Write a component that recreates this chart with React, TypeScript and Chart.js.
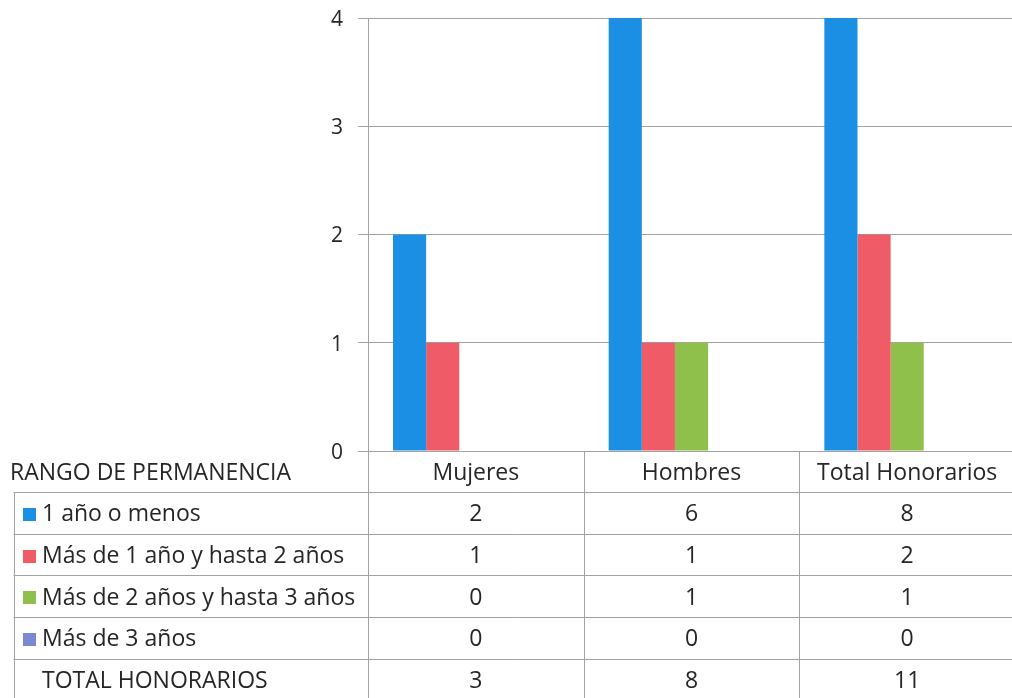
import React, { useEffect, useRef } from "react";
import { Chart, registerables } from "chart.js";

Chart.register(...registerables);

// Categories along the x axis
const categories = ["Mujeres", "Hombres", "Total Honorarios"];

// Series (one per tenure range) plus the total row
const seriesNames = [
  "1 año o menos",
  "Más de 1 año y hasta 2 años",
  "Más de 2 años y hasta 3 años",
  "Más de 3 años",
  "TOTAL HONORARIOS",
];
const unAnoOMenos = [2, 6, 8];
const deUnoADos = [1, 1, 2];
const deDosATres = [0, 1, 1];
const masDeTres = [0, 0, 0];
const totalHonorarios = [3, 8, 11];

const seriesColors = ["#1a8fe3", "#ef5b66", "#8fc04c", "#7d88d2", "rgba(0,0,0,0)"];
const seriesKeys = [true, true, true, true, false];

const yMin = 0;
const yMax = 4;
const yStep = 1;

const tableTitle = "RANGO DE PERMANENCIA";

const FONT = "'Open Sans', 'Noto Sans', sans-serif";
const TEXT = "#262626";
const LINE = "#a3a3a3";

const seriesValues = [unAnoOMenos, deUnoADos, deDosATres, masDeTres, totalHonorarios];

// Draws the data table under the plot, aligned with the category scale
const dataTablePlugin = {
  id: "dataTable",
  afterDraw(chart: any) {
    const { ctx, chartArea, scales } = chart;
    const x = scales.x;
    const colW = (chartArea.right - chartArea.left) / categories.length;
    const headerTop = chartArea.bottom;
    const headerH = 41;
    const rowH = 41.7;
    const tableLeft = 13.5;
    const right = chartArea.right;
    const bottom = headerTop + headerH + rowH * seriesNames.length;
    const px = (v: number) => Math.round(v) + 0.5;

    ctx.save();
    ctx.strokeStyle = LINE;
    ctx.lineWidth = 1;
    ctx.beginPath();
    // horizontal lines
    for (let r = 0; r <= seriesNames.length; r++) {
      const y = px(headerTop + headerH + r * rowH);
      ctx.moveTo(tableLeft, y);
      ctx.lineTo(right, y);
    }
    // left edge of the series column
    ctx.moveTo(px(tableLeft), px(headerTop + headerH));
    ctx.lineTo(px(tableLeft), bottom);
    // axis continues through the table
    ctx.moveTo(px(chartArea.left), headerTop);
    ctx.lineTo(px(chartArea.left), bottom);
    // category dividers
    for (let i = 0; i < categories.length; i++) {
      const xr = px(x.getPixelForValue(i) + colW / 2);
      ctx.moveTo(xr, headerTop);
      ctx.lineTo(xr, bottom);
    }
    ctx.stroke();

    ctx.font = `23px ${FONT}`;
    ctx.fillStyle = TEXT;
    ctx.textBaseline = "middle";

    // header row
    const headerY = headerTop + headerH / 2 + 2;
    ctx.textAlign = "left";
    ctx.fillText(tableTitle, 10, headerY);
    ctx.textAlign = "center";
    categories.forEach((c, i) => ctx.fillText(c, x.getPixelForValue(i), headerY));

    // series rows
    seriesNames.forEach((name, r) => {
      const cy = headerTop + headerH + r * rowH + rowH / 2 + 2;
      if (seriesKeys[r]) {
        ctx.fillStyle = seriesColors[r];
        ctx.fillRect(23, Math.round(cy - 7), 13, 13);
      }
      ctx.fillStyle = TEXT;
      ctx.textAlign = "left";
      ctx.fillText(name, 42, cy);
      ctx.textAlign = "center";
      seriesValues[r].forEach((v, i) => ctx.fillText(String(v), x.getPixelForValue(i), cy));
    });
    ctx.restore();
  },
};

export default function App() {
  const canvasRef = useRef<HTMLCanvasElement | null>(null);

  useEffect(() => {
    const canvas = canvasRef.current;
    if (!canvas) return;
    const chart = new Chart(canvas, {
      type: "bar",
      data: {
        labels: categories,
        datasets: seriesNames.map((name, i) => ({
          label: name,
          data: seriesValues[i],
          backgroundColor: seriesColors[i],
          borderWidth: 0,
          barPercentage: 1,
          categoryPercentage: 0.768,
        })),
      },
      options: {
        responsive: false,
        animation: false,
        layout: { padding: { top: 18, right: 5, bottom: 247, left: 0 } },
        plugins: {
          legend: { display: false },
          tooltip: { enabled: false },
        },
        scales: {
          x: { display: false },
          y: {
            min: yMin,
            max: yMax,
            afterFit(scale: any) {
              scale.width = 368;
              scale.paddingTop = 0;
              scale.paddingBottom = 0;
            },
            ticks: {
              stepSize: yStep,
              color: TEXT,
              padding: 15,
              labelOffset: 2,
              font: { family: FONT, size: 21 },
            },
            grid: {
              color: LINE,
              lineWidth: 1,
              tickLength: 10,
            },
            border: { display: true, color: LINE, width: 1 },
          },
        },
      },
      plugins: [dataTablePlugin],
    });
    return () => chart.destroy();
  }, []);

  return (
    <div
      style={{
        position: "absolute",
        left: 0,
        top: 0,
        width: 1012,
        height: 698,
        overflow: "hidden",
        background: "#ffffff",
      }}
    >
      <canvas ref={canvasRef} width={1020} height={698} style={{ display: "block" }} />
    </div>
  );
}
